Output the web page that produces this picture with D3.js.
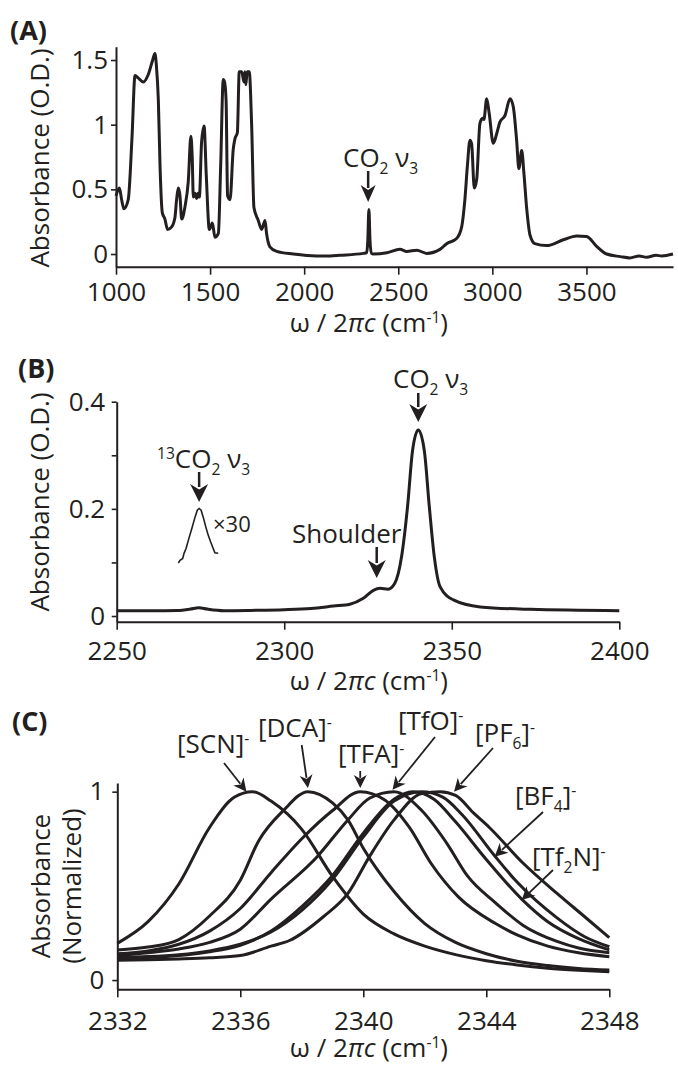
<!DOCTYPE html>
<html>
<head>
<meta charset="utf-8">
<script src="https://cdn.jsdelivr.net/npm/d3@7"></script>
<style>
body { margin: 0; background: #fff; }
svg text { font-family: "Open Sans", sans-serif; fill: #231f20; }
</style>
</head>
<body>
<svg></svg>
<script>
const ink = '#231f20'

// (A) full FTIR spectrum: wavenumber, absorbance
const specAWn = [1000, 1018, 1030, 1042, 1065, 1085, 1101, 1119, 1145, 1172, 1195, 1207, 1215, 1225, 1234, 1246, 1260,
  1274, 1296, 1313, 1322, 1331, 1340, 1349, 1367, 1384, 1398, 1405, 1411, 1420, 1429, 1436, 1443, 1455, 1468, 1480,
  1496, 1512, 1526, 1544, 1556, 1570, 1577, 1585, 1593, 1606, 1623, 1632, 1645, 1655, 1668, 1680, 1685, 1690, 1697,
  1708, 1721, 1733, 1756, 1774, 1792, 1800, 1818, 1854, 1942, 2066, 2137, 2190, 2314, 2332, 2338, 2344, 2350, 2358,
  2367, 2440, 2509, 2545, 2598, 2651, 2722, 2757, 2810, 2837, 2854, 2867, 2881, 2890, 2904, 2917, 2934, 2948, 2955,
  2970, 2983, 3005, 3023, 3040, 3067, 3094, 3111, 3129, 3141, 3156, 3168, 3182, 3200, 3226, 3288, 3377, 3448, 3501,
  3554, 3607, 3680, 3731, 3780, 3820, 3870, 3900, 3960]
const specAAbs = [0.45, 0.51, 0.42, 0.35, 0.42, 0.9, 1.38, 1.36, 1.33, 1.39, 1.5, 1.55, 1.45, 1.19, 0.68, 0.32, 0.27,
  0.19, 0.21, 0.28, 0.42, 0.51, 0.45, 0.27, 0.37, 0.56, 0.91, 0.75, 0.44, 0.47, 0.43, 0.47, 0.44, 0.87, 0.99, 0.6,
  0.19, 0.24, 0.13, 0.16, 0.67, 1.35, 1.33, 1.19, 0.45, 0.42, 0.81, 0.89, 0.94, 1.41, 1.41, 1.33, 1.41, 1.31, 1.41,
  1.41, 0.99, 0.36, 0.26, 0.19, 0.26, 0.16, 0.056, 0.02, 0, -0.015, -0.015, -0.01, 0.005, 0.01, 0.1, 0.345, 0.1, 0.005,
  0, 0.01, 0.036, 0.02, 0.03, 0.005, 0.036, 0.08, 0.12, 0.21, 0.42, 0.675, 0.88, 0.85, 0.51, 0.58, 1.01, 1.05, 1.04,
  1.2, 1.09, 0.856, 0.93, 1.02, 1.07, 1.2, 1.14, 0.88, 0.66, 0.8, 0.62, 0.36, 0.147, 0.08, 0.065, 0.11, 0.14, 0.135,
  0.06, 0, -0.02, -0.03, -0.015, -0.025, -0.01, -0.015, 0]

// (B) CO2 region
const specBWn = [2250, 2260, 2268, 2272, 2274.5, 2277, 2282, 2290, 2300, 2308, 2314.7, 2319.6, 2323.6, 2326.6, 2328.6,
  2331, 2333, 2335, 2336.8, 2338.3, 2340, 2341.8, 2343.3, 2344.8, 2346.5, 2350.5, 2358.5, 2373.4, 2400]
const specBAbs = [0.0099, 0.01, 0.0105, 0.013, 0.0155, 0.013, 0.01, 0.0105, 0.0117, 0.014, 0.0186, 0.022, 0.033, 0.048,
  0.0516, 0.05, 0.061, 0.11, 0.204, 0.309, 0.347, 0.309, 0.204, 0.11, 0.055, 0.03, 0.017, 0.0125, 0.01]

// 13CO2 band, scaled x30 and offset
const insetWn = [2268.4, 2268.9, 2269.7, 2270.1, 2270.7, 2271.4, 2272.4, 2273.4, 2274.05, 2274.6, 2275.2, 2275.8,
  2276.6, 2277.3, 2278.05, 2278.8, 2279.3, 2280.3]
const insetAbs = [0.099, 0.104, 0.1075, 0.117, 0.126, 0.1416, 0.163, 0.185, 0.1975, 0.2007, 0.1975, 0.185, 0.166,
  0.151, 0.138, 0.126, 0.118, 0.117]

// (C) normalized CO2 v3 band in each ionic liquid
const anions = ['SCN', 'DCA', 'TFA', 'TfO', 'Tf2N', 'BF4', 'PF6']
const bandSCN = [[2332, 0.195], [2333, 0.31], [2334, 0.51], [2335, 0.81], [2335.8, 0.97], [2336.4, 1.0], [2337, 0.95],
  [2338, 0.8], [2339, 0.55], [2340, 0.35], [2341, 0.245], [2342, 0.18], [2343, 0.135], [2344, 0.103], [2345, 0.08],
  [2346, 0.063], [2347, 0.052], [2348, 0.044]]
const bandDCA = [[2332, 0.16], [2333, 0.175], [2334, 0.215], [2335, 0.34], [2336, 0.53], [2336.6, 0.74], [2337.4, 0.9],
  [2338.2, 1.0], [2339, 0.94], [2339.5, 0.85], [2340, 0.7], [2341, 0.47], [2342, 0.3], [2343, 0.2], [2344, 0.14],
  [2345, 0.1], [2346, 0.077], [2347, 0.062], [2348, 0.053]]
const bandTFA = [[2332, 0.14], [2333, 0.155], [2334, 0.19], [2335, 0.26], [2336, 0.38], [2337, 0.57], [2338, 0.75],
  [2339, 0.9], [2339.9, 1.0], [2340.7, 0.956], [2341.5, 0.81], [2342.2, 0.62], [2343.1, 0.44], [2344.3, 0.3],
  [2345, 0.24], [2346, 0.18], [2347, 0.145], [2348, 0.124]]
const bandTfO = [[2332, 0.13], [2333, 0.145], [2334, 0.165], [2335, 0.2], [2336, 0.27], [2337, 0.43], [2338.5, 0.655],
  [2339.5, 0.85], [2340.2, 0.965], [2341, 1.0], [2341.9, 0.9], [2342.7, 0.73], [2343.4, 0.55], [2344.3, 0.41],
  [2345.2, 0.29], [2346.3, 0.205], [2347, 0.17], [2348, 0.145]]
const bandTf2N = [[2332, 0.115], [2333, 0.12], [2334, 0.13], [2335, 0.15], [2336, 0.185], [2337, 0.26], [2338, 0.39],
  [2339, 0.555], [2340, 0.78], [2341, 0.96], [2341.6, 1.0], [2342.3, 0.96], [2343, 0.84], [2344, 0.64], [2345.15, 0.43],
  [2346, 0.31], [2347, 0.22], [2348, 0.16]]
const bandBF4 = [[2332, 0.12], [2333, 0.125], [2334, 0.135], [2335, 0.155], [2336, 0.19], [2337, 0.255], [2338, 0.37],
  [2339, 0.535], [2340, 0.76], [2341, 0.95], [2341.9, 1.0], [2342.6, 0.97], [2343.2, 0.88], [2344.27, 0.66], [2345, 0.52],
  [2346.3, 0.33], [2347.2, 0.23], [2348, 0.177]]
const bandPF6 = [[2332, 0.105], [2333, 0.108], [2334, 0.112], [2335, 0.118], [2336, 0.13], [2337, 0.18], [2337.6, 0.21],
  [2338.7, 0.336], [2339.5, 0.46], [2340.2, 0.655], [2341, 0.85], [2341.9, 0.99], [2342.5, 1.0], [2343, 0.98],
  [2343.6, 0.885], [2344.1, 0.81], [2345.2, 0.62], [2346.3, 0.46], [2347.2, 0.336], [2348, 0.225]]
const bandsC = [bandSCN, bandDCA, bandTFA, bandTfO, bandTf2N, bandBF4, bandPF6]

const ticksAx = [1000, 1500, 2000, 2500, 3000, 3500]
const ticksAy = [0, 0.5, 1, 1.5]
const ticksBx = [2250, 2300, 2350, 2400]
const ticksBy = [0, 0.1, 0.2, 0.3, 0.4]
const labelsBy = [0, 0.2, 0.4]
const ticksCx = [2332, 2336, 2340, 2344, 2348]
const ticksCy = [0, 1]

let svg = d3.select('svg').attr('width', 678).attr('height', 1066)

//scales
let xA = d3.scaleLinear().domain([1000, 3960]).range([116, 673])
let yA = d3.scaleLinear().domain([-0.098, 1.603]).range([266.7, 46.7])
let xB = d3.scaleLinear().domain([2250, 2400]).range([116.7, 619.3])
let yB = d3.scaleLinear().domain([-0.0106, 0.4]).range([621.7, 401.7])
let xC = d3.scaleLinear().domain([2332, 2348]).range([117.3, 609.3])
let yC = d3.scaleLinear().domain([-0.049, 1.046]).range([989.3, 783])

function styleAxis(g) {
  g.attr('font-size', 26).attr('font-family', '"Open Sans", sans-serif').attr('color', ink)
  g.select('.domain').attr('stroke-width', 2)
  g.selectAll('.tick line').attr('stroke-width', 1.6)
}

function axes(xs, ys, xt, yt, yfmt, xpad, ypad) {
  svg.append('g')
     .attr('transform', 'translate(0,' + ys.range()[0] + ')')
     .call(d3.axisBottom(xs).tickValues(xt).tickFormat(d3.format('')).tickSize(8).tickPadding(xpad).tickSizeOuter(0))
     .call(styleAxis)
  svg.append('g')
     .attr('transform', 'translate(' + xs.range()[0] + ',0)')
     .call(d3.axisLeft(ys).tickValues(yt).tickFormat(yfmt).tickSize(5).tickPadding(ypad).tickSizeOuter(0))
     .call(styleAxis)
}

axes(xA, yA, ticksAx, ticksAy, d3.format(''), 8, 3)
axes(xB, yB, ticksBx, ticksBy, d => labelsBy.includes(d) ? d3.format('')(d) : '', 12, 6.5)
axes(xC, yC, ticksCx, ticksCy, d3.format(''), 14, 8)

// text with sub/superscripts
function label(x, y, parts, size, anchor) {
  let t = svg.append('text').attr('x', x).attr('y', y).attr('font-size', size)
  if (anchor) t.attr('text-anchor', anchor)
  let shift = 0
  parts.forEach(p => {
    let want = p.sub ? 7 : p.sup ? -9 : 0
    let s = t.append('tspan').text(p.t).attr('dy', want - shift)
    if (p.sub || p.sup) s.attr('font-size', size * 0.6)
    if (p.it) s.attr('font-style', 'italic')
    shift = want
  })
  return t
}

function arrow(x1, y1, x2, y2, head, half, sw) {
  let dx = x2 - x1, dy = y2 - y1, L = Math.hypot(dx, dy), ux = dx / L, uy = dy / L
  let bx = x2 - ux * head, by = y2 - uy * head
  svg.append('line').attr('x1', x1).attr('y1', y1).attr('x2', bx + ux * 3).attr('y2', by + uy * 3)
     .attr('stroke', ink).attr('stroke-width', sw)
  svg.append('path')
     .attr('d', 'M' + x2 + ',' + y2 + 'L' + (bx - uy * half) + ',' + (by + ux * half) +
       'L' + (bx + ux * head * 0.3) + ',' + (by + uy * head * 0.3) +
       'L' + (bx + uy * half) + ',' + (by - ux * half) + 'Z')
     .attr('fill', ink)
}

function ylabel(x, y, txt) {
  svg.append('text').attr('transform', 'translate(' + x + ',' + y + ') rotate(-90)')
     .attr('text-anchor', 'middle').attr('font-size', 26).text(txt)
}

const xlabelParts = [{t: 'ω / 2'}, {t: 'π', it: true}, {t: 'c', it: true}, {t: ' (cm'}, {t: '-1', sup: true}, {t: ')'}]

// ---- (A)
let lineA = d3.line().x((d, i) => xA(specAWn[i])).y(d => yA(d)).curve(d3.curveMonotoneX)
svg.append('path').attr('d', lineA(specAAbs)).attr('fill', 'none').attr('stroke', ink)
   .attr('stroke-width', 3).attr('stroke-linejoin', 'round')
svg.append('text').attr('x', 10).attr('y', 40).attr('font-size', 27).attr('font-weight', 700).text('(A)')
ylabel(49, 158, 'Absorbance (O.D.)')
label(448, 332, xlabelParts, 26, 'end')
label(343, 167, [{t: 'CO'}, {t: '2', sub: true}, {t: ' ν'}, {t: '3', sub: true}], 26)
arrow(xA(2340), 171, xA(2340), 202, 17, 7.5, 2.5)

// ---- (B)
let lineB = d3.line().x((d, i) => xB(specBWn[i])).y(d => yB(d)).curve(d3.curveMonotoneX)
svg.append('path').attr('d', lineB(specBAbs)).attr('fill', 'none').attr('stroke', ink)
   .attr('stroke-width', 3).attr('stroke-linejoin', 'round')
let lineIn = d3.line().x((d, i) => xB(insetWn[i])).y(d => yB(d))
svg.append('path').attr('d', lineIn(insetAbs)).attr('fill', 'none').attr('stroke', ink).attr('stroke-width', 1.6)
svg.append('text').attr('x', 18).attr('y', 378).attr('font-size', 27).attr('font-weight', 700).text('(B)')
ylabel(49, 502, 'Absorbance (O.D.)')
label(448, 690, xlabelParts, 26, 'end')
label(157, 468, [{t: '13', sup: true}, {t: 'CO'}, {t: '2', sub: true}, {t: ' ν'}, {t: '3', sub: true}], 26)
arrow(xB(2274.6), 472, xB(2274.6), 502, 18, 9, 2.5)
label(213, 532, [{t: '×30'}], 22)
label(292, 543, [{t: 'Shoulder'}], 26)
arrow(xB(2327.6), 547, xB(2327.6), 578, 18, 9, 2.5)
label(393, 388, [{t: 'CO'}, {t: '2', sub: true}, {t: ' ν'}, {t: '3', sub: true}], 26)
arrow(xB(2340), 393, xB(2340), 422, 18, 9, 2.5)

// ---- (C)
let lineC = d3.line().x(d => xC(d[0])).y(d => yC(d[1])).curve(d3.curveMonotoneX)
svg.selectAll('.band').data(bandsC).enter().append('path')
   .attr('class', 'band').attr('d', lineC).attr('fill', 'none').attr('stroke', ink)
   .attr('stroke-width', 3).attr('stroke-linejoin', 'round')
svg.append('text').attr('x', 12).attr('y', 731).attr('font-size', 27).attr('font-weight', 700).text('(C)')
svg.append('text').attr('transform', 'translate(50,886) rotate(-90)').attr('text-anchor', 'middle')
   .attr('font-size', 26).text('Absorbance')
svg.append('text').attr('transform', 'translate(81,886) rotate(-90)').attr('text-anchor', 'middle')
   .attr('font-size', 26).text('(Normalized)')
label(448, 1057, xlabelParts, 26, 'end')

label(177, 753, [{t: '[SCN]'}, {t: '-', sup: true}], 26)
arrow(224, 763, xC(2336.2), yC(1.0), 13, 6.5, 1.8)
label(258, 737, [{t: '[DCA]'}, {t: '-', sup: true}], 26)
arrow(301.7, 745, xC(2338.2), yC(1.02), 13, 6.5, 1.8)
label(338, 763, [{t: '[TFA]'}, {t: '-', sup: true}], 26)
arrow(xC(2339.9), 771, xC(2339.9), yC(1.02), 13, 6.5, 1.8)
label(398, 730, [{t: '[TfO]'}, {t: '-', sup: true}], 26)
arrow(435, 737, xC(2340.95), yC(1.01), 13, 6.5, 1.8)
label(475, 742, [{t: '[PF'}, {t: '6', sub: true}, {t: ']'}, {t: '-', sup: true}], 26)
arrow(493, 748, xC(2342.95), yC(1.0), 13, 6.5, 1.8)
label(515, 805, [{t: '[BF'}, {t: '4', sub: true}, {t: ']'}, {t: '-', sup: true}], 26)
arrow(543, 812, xC(2344.27), yC(0.655), 13, 6.5, 1.8)
label(532, 866, [{t: '[Tf'}, {t: '2', sub: true}, {t: 'N]'}, {t: '-', sup: true}], 26)
arrow(553, 870, xC(2345.15), yC(0.425), 13, 6.5, 1.8)
</script>
</body>
</html>
